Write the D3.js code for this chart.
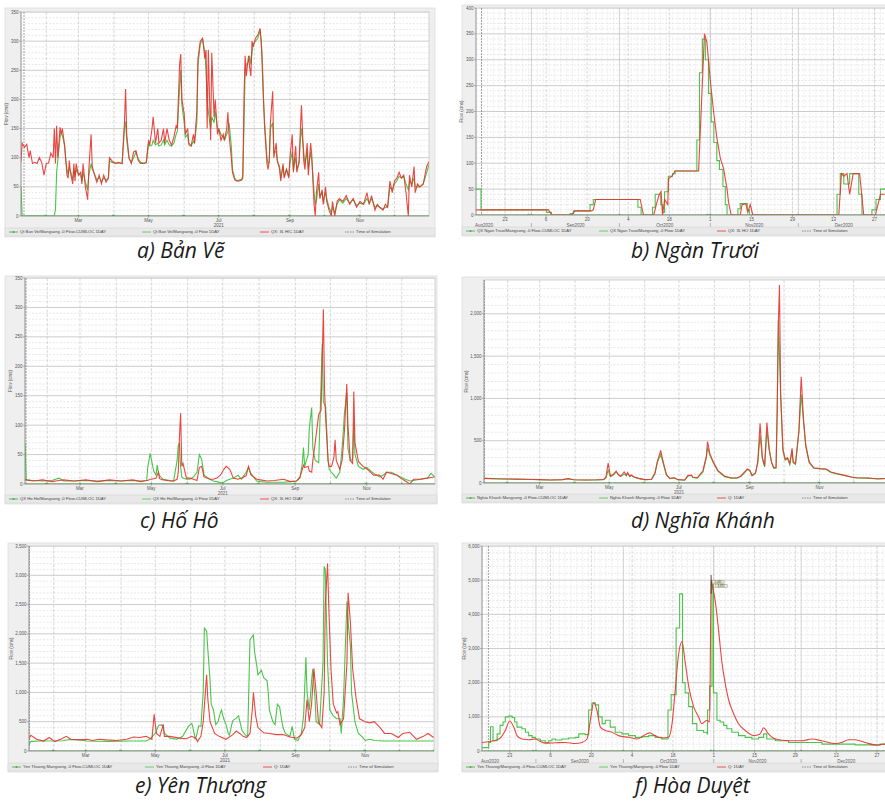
<!DOCTYPE html>
<html>
<head>
<meta charset="utf-8">
<script src="https://cdn.jsdelivr.net/npm/d3@7"></script>
<style>
  body { margin: 0; background: #fff; }
  text { font-family: "Liberation Sans", Arial, sans-serif; }
  .cap { font-family: "Open Sans", "DejaVu Sans", sans-serif; font-style: italic; }
</style>
</head>
<body>
<svg id="fig" width="885" height="801"></svg>
<script>
// ---- data: day of year, flow (cms) ----
// a) Ban Ve 2021
const aDay = [10,11,13,15,17,18,20,22,24,26,
  28,30,32,34,36,38,39,40,41,42,
  44,45,46,48,49,50,51,52,53,55,
  56,57,58,60,62,63,64,66,68,69,
  71,72,74,76,78,80,82,84,86,87,
  89,92,95,98,100,101,102,104,106,108,
  110,112,114,117,119,121,122,124,125,127,
  129,130,132,134,135,137,139,141,143,145,
  146,148,149,150,152,153,155,156,158,160,
  161,163,164,166,168,170,171,172,173,175,
  176,178,179,181,182,184,186,187,189,190,
  191,193,194,196,198,200,202,203,204,205,
  206,208,209,210,211,212,214,216,218,219,
  220,221,222,224,225,226,227,229,230,232,
  233,235,236,238,239,241,243,244,246,247,
  249,250,252,253,254,256,257,259,260,262,
  263,264,265,266,267,269,270,272,273,275,
  276,278,280,281,283,285,287,290,293,296,
  299,302,305,308,311,313,315,318,320,322,
  325,327,329,331,333,335,337,339,341,343,
  345,347,348,350,352,353,355,357,360,363,
  365];
const aObs = [50,0,0,0,0,0,0,0,0,0,
  0,0,0,0,0,0,0,12,75,95,
  135,142,138,120,95,80,72,82,78,62,
  80,68,80,72,70,60,75,58,45,70,
  90,80,72,62,66,60,65,62,64,95,
  92,91,91,90,150,162,130,98,92,100,
  110,98,92,91,91,125,120,122,130,122,
  125,120,122,130,122,130,122,120,125,140,
  145,220,250,190,160,135,140,122,120,128,
  125,160,260,295,303,280,250,200,180,150,
  170,160,180,150,150,140,135,130,140,145,
  160,120,80,65,60,62,62,70,150,250,
  260,265,275,260,280,295,300,305,318,300,
  270,200,160,100,90,92,150,160,110,110,
  95,85,65,85,68,80,68,90,110,80,
  100,80,90,130,150,110,90,110,80,110,
  95,70,40,20,25,55,35,40,25,40,
  30,15,5,15,5,20,28,22,30,22,
  28,18,22,20,30,22,30,15,18,15,
  12,15,15,50,45,55,60,68,65,68,
  55,45,60,55,65,50,50,50,55,75,
  88];
const aSim = [93,125,118,123,100,112,90,92,90,100,
  92,70,90,91,108,100,150,90,155,100,
  152,140,150,120,95,70,65,95,75,55,
  90,60,90,70,75,55,90,50,28,80,
  140,85,70,58,70,55,70,58,65,100,
  95,90,92,90,160,218,140,100,90,110,
  112,95,90,90,92,130,122,150,170,125,
  150,125,130,150,125,150,130,122,135,155,
  150,260,278,200,175,140,150,125,120,140,
  125,180,270,300,305,270,285,150,285,130,
  280,170,200,140,150,130,140,130,150,178,
  140,100,75,62,60,60,62,65,200,275,
  240,275,255,240,300,290,305,310,322,300,
  250,200,150,90,80,95,160,214,100,125,
  95,80,60,90,65,80,65,100,140,75,
  120,75,95,145,190,95,80,125,70,125,
  105,60,20,0,40,75,30,45,20,50,
  25,10,0,25,0,25,30,25,35,20,
  30,15,25,20,40,20,35,10,20,15,
  10,20,15,60,40,60,65,75,65,70,
  40,0,70,50,85,40,55,50,55,85,
  93];

// b) Ngan Truoi 2020
const bObsDay = [226.1,227.8,250.2,251.8,258.2,259.3,265,266.1,281.3,282.4,
  286.3,287.2,289.1,289.7,290.4,291.7,293.1,294,301.4,302.3,
  303.3,304.3,305.4,306.3,307.2,308.2,309.1,310.3,311.1,311.7,
  315.4,316.2,318.6,319.3,349.2,350.3,351.5,353.5,356.6,357.7,
  361.1,362.5,364,368];
const bObs = [50,10,5,0,3,8,20,30,15,0,
  15,40,20,5,45,75,80,85,145,275,
  340,300,235,180,140,105,88,55,20,0,
  12,22,10,0,40,80,60,80,40,0,
  10,30,50,50];
const bSimDay = [226.1,250.8,252,258.8,259.9,265.5,266.1,266.9,282.1,283.2,
  286.7,287.8,288.6,289.2,289.7,290.4,291.5,291.7,292.9,294,
  302,304,304.8,306,307.1,308.2,309.4,310.5,311.7,312.2,
  313.1,316.2,316.8,318.1,318.8,319.6,320.5,349.8,350.7,351.5,
  352.6,353.5,354.7,356.9,358.3,362.3,364,368];
const bSim = [10,10,0,0,8,8,10,30,30,0,
  0,25,40,45,0,30,20,70,75,85,
  85,350,335,260,200,150,110,90,50,25,
  0,0,20,22,5,20,0,0,80,75,
  80,40,80,80,0,0,40,40];

// c) Ho Ho 2021
const cDay = [13,14,20,28,36,42,46,55,65,75,
  85,95,105,112,117,118,120,121,123,125,
  126,127,128,131,137,140,143,144,145,146,
  147,148,151,154,157,160,162,164,166,171,
  174,177,180,183,185,188,191,195,198,202,
  204,206,211,214,220,226,234,240,245,248,
  250,251,252,255,256,258,259,261,264,266,
  267,268,269,270,272,273,275,277,278,279,
  282,284,286,288,289,291,293,294,295,298,
  302,305,311,316,319,322,326,331,334,338,
  342,345,351,357,360,363];
const cObs = [70,7,6,5,6,10,5,5,6,5,
  6,5,6,5,6,30,52,42,22,15,
  32,20,14,8,6,5,40,65,70,30,
  12,10,8,8,12,20,50,42,15,8,
  5,4,2,3,6,8,10,15,8,20,
  28,18,5,4,3,3,3,4,5,10,
  35,62,30,50,95,130,60,40,36,170,
  238,140,135,130,40,25,20,15,12,10,
  20,60,120,155,60,40,42,105,50,30,
  25,28,18,12,15,20,20,15,12,8,
  5,6,8,10,18,12];
const cSim = [8,7,5,7,4,6,7,5,7,4,
  7,5,7,4,6,6,8,8,9,10,
  15,20,9,7,5,5,8,20,80,120,
  30,35,10,10,8,6,28,30,12,8,
  8,10,15,25,30,25,10,8,10,14,
  30,16,8,7,5,6,8,4,5,12,
  25,32,28,30,22,20,40,70,118,125,
  210,297,160,110,40,30,30,45,75,40,
  25,40,90,170,100,40,35,157,70,38,
  30,26,15,15,8,20,18,15,10,5,
  0,8,8,10,11,12];

// d) Nghia Khanh 2021
const dDay = [11,20,30,40,50,60,70,80,85,90,
  100,110,116,118,120,122,125,127,129,131,
  134,136,137,139,140,143,147,152,158,161,
  163,166,168,171,174,178,181,187,190,193,
  194,198,203,206,207,209,212,216,222,228,
  233,236,239,242,244,246,249,251,253,255,
  257,259,261,263,265,267,268,269,270,271,
  273,275,277,279,281,282,284,287,289,291,
  293,296,300,306,311,315,321,327,333,338,
  347,356,365];
const dObs = [55,52,48,45,42,38,36,38,50,38,
  35,36,40,60,150,75,100,130,95,75,
  105,85,115,75,90,65,50,38,42,110,
  240,340,240,95,50,58,38,32,85,88,
  65,58,130,300,420,330,240,140,75,58,
  58,75,115,160,145,85,115,240,560,290,
  190,620,390,240,175,175,800,1920,1500,1040,
  380,270,290,220,370,240,220,600,1050,730,
  430,240,175,165,160,125,105,88,68,60,
  58,48,52];
const dSim = [55,50,48,46,44,40,36,40,52,38,
  36,38,42,65,235,80,110,140,100,80,
  130,90,125,80,95,70,55,40,45,120,
  250,385,260,100,55,62,40,35,90,92,
  70,62,145,320,490,350,250,150,80,60,
  62,80,125,165,150,90,120,250,705,300,
  200,715,400,250,180,185,900,1900,2340,1060,
  400,280,300,230,410,250,230,620,1255,760,
  450,250,180,170,165,130,110,90,70,62,
  60,50,55];

// e) Yen Thuong 2021
const eObsDay = [10,12,20,40,46,55,61,80,100,113,
  116,121,124,127,129,134,140,145,150,153,
  154,156,157,159,161,163,164,166,167,169,
  170,172,174,176,178,179,181,183,185,186,
  188,189,192,194,197,200,202,204,207,208,
  210,211,214,216,219,220,221,224,226,228,
  230,232,233,235,239,241,243,246,249,251,
  253,254,256,258,259,261,262,265,268,269,
  270,272,274,277,280,283,284,286,289,290,
  292,293,296,299,302,305,309,313,322,365];
const eObs = [100,165,170,175,195,190,170,165,170,170,
  200,300,440,445,300,220,200,250,420,470,
  400,210,250,430,420,1000,2100,2050,1750,1200,
  800,700,450,500,650,700,550,450,300,270,
  450,520,560,600,350,270,250,1900,1980,1700,
  1450,1300,1380,1250,1200,1000,700,500,450,800,
  750,500,400,300,250,420,200,180,300,600,
  1600,1000,700,1200,1400,900,500,450,1500,3150,
  3100,1500,700,600,550,550,300,900,2550,2200,
  1800,1000,500,300,250,180,200,180,170,170];
const eSimDay = [10,12,17,23,28,33,39,43,47,55,
  61,66,72,78,87,96,102,107,113,118,
  120,122,125,128,129,134,142,148,153,157,
  158,161,163,166,167,169,173,177,183,189,
  192,195,198,201,204,206,207,209,211,216,
  221,227,233,239,245,249,252,254,256,258,
  260,262,264,267,269,270,272,273,275,277,
  280,281,283,286,289,290,292,294,297,300,
  305,309,313,318,322,328,334,338,344,350,
  356,360,365];
const eSim = [200,270,200,170,230,160,210,250,200,190,
  200,180,200,190,180,200,240,230,250,200,
  625,300,250,455,250,250,220,210,250,210,
  160,250,500,1300,900,500,300,250,200,280,
  340,300,250,230,300,700,1000,600,400,310,
  300,280,280,240,220,280,400,880,500,800,
  1410,1000,500,400,1000,2500,3200,2500,1400,800,
  650,670,450,550,1500,2700,2200,1400,900,550,
  500,480,500,400,300,300,230,300,320,200,
  250,300,230];

// f) Hoa Duyet 2020
const fObsDay = [226.5,228.8,229.4,230.3,231.7,232.7,233.7,234.5,235.7,236.8,
  237.7,238.5,240.2,241.4,242.5,243.7,244.8,246.5,248.2,249.4,
  250.5,251.7,253.9,256.2,258.5,259.7,261.9,263.1,264.2,265.4,
  266.5,267.7,268.8,270.5,272.2,274.5,276.8,279.1,281.4,283.7,
  285.9,288.2,290.3,291.4,293.1,294.3,295.3,296.2,297.4,298.7,
  300.2,302.5,303.7,303.9,304.6,305.4,305.9,307.1,308.2,309.4,
  310.5,312.2,314.5,316.8,319.1,321.4,323.1,324.2,327.1,331.7,
  343.1,354.5,361.4,363.1,368];
const fObs = [100,250,710,300,500,750,850,1000,1020,980,
  850,700,650,550,450,400,350,300,250,300,
  350,320,350,380,400,500,480,1200,1400,1350,
  1000,800,900,700,550,500,450,400,420,450,
  400,350,1200,1650,3600,4600,2000,1700,1300,800,
  600,550,500,1200,1900,4900,1700,900,850,750,
  650,550,450,400,350,400,500,350,300,250,
  200,180,170,200,220];
const fSimDay = [226.5,228.8,232.3,234.5,236,237.4,238.5,240.2,242.5,244.8,
  246.5,248.2,251.7,255.1,258.5,260.8,262.5,263.7,264.8,265.9,
  267.1,268.8,271.1,273.4,276.8,279.7,281.9,284,285.9,288.2,
  290.5,291.7,292.8,293.9,295.1,296.2,297.4,299.1,300.8,301.9,
  303.7,304.6,305.1,305.6,306.5,307.7,308.8,309.9,311.1,312.8,
  314.5,316.8,319.7,321.9,323.1,324.8,327.1,331.7,336.2,339.7,
  343.1,347.7,349.9,352.2,354.5,357.9,361.4,364.8,368];
const fSim = [250,270,350,600,880,700,450,350,330,350,
  280,230,240,250,220,250,350,900,1420,1200,
  700,600,550,450,400,350,450,530,450,380,
  400,800,1800,2800,3200,2600,1900,1300,1000,800,
  900,850,5000,4800,4400,3500,2600,2000,1500,1100,
  800,600,450,500,680,500,350,300,300,350,
  300,220,250,330,330,250,180,200,210];
const fMarkers = ["5,031", "4,872"];

// ---- tick labels ----
const monthTicks = ["Mar", "May", "Jul", "Sep", "Nov"];
const monthTickIdx = [2, 4, 6, 8, 10];
const dayTicks2020 = ["2020-08-23","2020-09-06","2020-09-20","2020-10-04","2020-10-18",
  "2020-11-01","2020-11-15","2020-11-29","2020-12-13","2020-12-27"];
const dayTickLabels = ["23","6","20","4","18","1","15","29","13","27"];
const monthLabels2020 = ["Aug2020","Sep2020","Oct2020","Nov2020","Dec2020"];

const legends = {
  a: ["Qt Ban Ve/Mangsong -0 Flow-CUMLOC 1DAY", "Qt Ban Ve/Mangsong -0 Flow 1DAY", "QX: 3L HIC 1DAY", "Time of Simulation"],
  b: ["QX Ngan Truoi/Mangsong -0 Flow-CUMLOC 1DAY", "QX Ngan Truoi/Mangsong -0 Flow 1DAY", "QX: 3L HO 1DAY", "Time of Simulation"],
  c: ["QX Ho Ho/Mangsong -0 Flow-CUMLOC 1DAY", "QX Ho Ho/Mangsong -0 Flow 1DAY", "QX: 3L HO 1DAY", "Time of Simulation"],
  d: ["Nghia Khanh Mangsong -0 Flow-CUMLOC 1DAY", "Nghia Khanh Mangsong -0 Flow 1DAY", "Q: 1DAY", "Time of Simulation"],
  e: ["Yen Thuong Mangsong -0 Flow-CUMLOC 1DAY", "Yen Thuong Mangsong -0 Flow 1DAY", "Q: 1DAY", "Time of Simulation"],
  f: ["Yen Thuong/Mangsong -0 Flow-CUMLOC 1DAY", "Yen Thuong/Mangsong -0 Flow 1DAY", "Q: 1DAY", "Time of Simulation"]
};

// ---- layout ----
const panels = [
  {key:"a", year:2021, frame:[5,8,430,229], plot:[21,12,429,216], xDom:[10,365], yMax:350, yMajor:50, yMinor:10,
   axis:"month", obs:[aDay,aObs], sim:[aDay,aSim], tos:12.6, caption:"a) Bản Vẽ", cap:[137,258]},
  {key:"b", year:2020, frame:[462,5,440,231], plot:[476,8,891,215], xDom:[226.1,367.6], yMax:400, yMajor:50, yMinor:10,
   axis:"day", obs:[bObsDay,bObs], sim:[bSimDay,bSim], obsStep:true, tos:228, caption:"b) Ngàn Trươi", cap:[631,258]},
  {key:"c", year:2021, frame:[5,276,432,228], plot:[25,278,435,484], xDom:[13,363.4], yMax:350, yMajor:50, yMinor:10,
   axis:"month", obs:[cDay,cObs], sim:[cDay,cSim], tos:13.9, caption:"c) Hố Hô", cap:[140,528]},
  {key:"d", year:2021, frame:[462,277,440,226], plot:[484,280,888,483], xDom:[11.3,365], yMax:2400, yMajor:500, yMinor:100,
   axis:"month", obs:[dDay,dObs], sim:[dDay,dSim], tos:11.6, caption:"d) Nghĩa Khánh", cap:[631,528]},
  {key:"e", year:2021, frame:[8,543,430,229], plot:[29,546,434,751], xDom:[10.3,365.3], yMax:3500, yMajor:500, yMinor:100,
   axis:"month", obs:[eObsDay,eObs], sim:[eSimDay,eSim], tos:10.6, caption:"e) Yên Thượng", cap:[135,793]},
  {key:"f", year:2020, frame:[462,543,440,229], plot:[482,546,893,751], xDom:[226.5,367.5], yMax:6000, yMajor:1000, yMinor:200,
   axis:"day", obs:[fObsDay,fObs], sim:[fSimDay,fSim], obsStep:true, simSmooth:true, tos:228.7, caption:"f) Hòa Duyệt", cap:[635,793]}
];

const GREEN = "#4cc44c", RED = "#e5332e";
const svg = d3.select("#fig");
svg.append("rect").attr("width", 885).attr("height", 801).attr("fill", "#fff");

function dayDate(year, d) {
  return new Date(new Date(year, 0, 1).getTime() + (d - 1) * 864e5);
}

panels.forEach(p => {
  const [fx, fy, fw, fh] = p.frame;
  const [l, t, r, b] = p.plot;
  const g = svg.append("g");
  const x = d3.scaleTime().domain(p.xDom.map(d => dayDate(p.year, d))).range([l, r]);
  const y = d3.scaleLinear().domain([0, p.yMax]).range([b, t]);

  g.append("rect").attr("x", fx).attr("y", fy).attr("width", fw).attr("height", fh)
    .attr("fill", "#efefef").attr("stroke", "#d4d4d4").attr("stroke-width", 0.6);
  g.append("rect").attr("x", l).attr("y", t).attr("width", r - l).attr("height", b - t)
    .attr("fill", "#fff").attr("stroke", "#b8b8b8").attr("stroke-width", 0.6);

  const clipId = "clip-" + p.key;
  g.append("clipPath").attr("id", clipId).append("rect")
    .attr("x", l).attr("y", t).attr("width", r - l).attr("height", b - t);
  const inner = g.append("g").attr("clip-path", `url(#${clipId})`);

  // horizontal grid
  inner.selectAll(".hmin").data(d3.range(p.yMinor, p.yMax, p.yMinor).filter(v => v % p.yMajor !== 0))
    .join("line").attr("x1", l).attr("x2", r).attr("y1", d => y(d)).attr("y2", d => y(d))
    .attr("stroke", "#d0d0d0").attr("stroke-width", 0.5).attr("stroke-dasharray", "2,1.5");
  inner.selectAll(".hmaj").data(d3.range(p.yMajor, p.yMax + 1, p.yMajor))
    .join("line").attr("x1", l).attr("x2", r).attr("y1", d => y(d)).attr("y2", d => y(d))
    .attr("stroke", "#cdcdcd").attr("stroke-width", 1);

  // vertical grid
  const d0 = x.domain()[0], d1 = x.domain()[1];
  if (p.axis === "month") {
    inner.selectAll(".vm").data(d3.timeMonth.range(d0, d1))
      .join("line").attr("x1", d => x(d)).attr("x2", d => x(d)).attr("y1", t).attr("y2", b)
      .attr("stroke", "#c6c6c6").attr("stroke-width", 0.7).attr("stroke-dasharray", "3,1.5");
  } else {
    inner.selectAll(".vd").data(d3.timeDay.every(2).range(d0, d1))
      .join("line").attr("x1", d => x(d)).attr("x2", d => x(d)).attr("y1", t).attr("y2", b)
      .attr("stroke", "#dadada").attr("stroke-width", 0.5).attr("stroke-dasharray", "2,1.5");
    inner.selectAll(".vt").data(dayTicks2020.map(s => new Date(s + "T00:00")))
      .join("line").attr("x1", d => x(d)).attr("x2", d => x(d)).attr("y1", t).attr("y2", b)
      .attr("stroke", "#c0c0c0").attr("stroke-width", 0.6).attr("stroke-dasharray", "3,1.5");
    inner.selectAll(".vmo").data(d3.timeMonth.range(d0, d1))
      .join("line").attr("x1", d => x(d)).attr("x2", d => x(d)).attr("y1", t).attr("y2", b)
      .attr("stroke", "#bdbdbd").attr("stroke-width", 0.6);
  }

  // time of simulation marker
  inner.append("line").attr("x1", x(dayDate(p.year, p.tos))).attr("x2", x(dayDate(p.year, p.tos)))
    .attr("y1", t).attr("y2", b).attr("stroke", "#666").attr("stroke-width", 0.6).attr("stroke-dasharray", "2,1");

  // cumulative local flow (flat zero) with markers
  const cum = [[d0, 0], [d1, 0]];
  inner.append("path").datum(cum).attr("fill", "none").attr("stroke", "#3aa83a").attr("stroke-width", 0.9)
    .attr("d", d3.line().x(d => x(d[0])).y(d => y(d[1])));
  inner.selectAll(".cm").data(d3.timeDay.every(30).range(d0, d1))
    .join("rect").attr("x", d => x(d) - 0.8).attr("y", y(0) - 1.2).attr("width", 1.6).attr("height", 1.6)
    .attr("fill", "#3aa83a");

  const toRows = ([days, vals]) => d3.zip(days, vals).map(([d, v]) => [dayDate(p.year, d), v]);
  const obsLine = d3.line().x(d => x(d[0])).y(d => y(d[1]))
    .curve(p.obsStep ? d3.curveStepAfter : d3.curveLinear);
  const simLine = d3.line().x(d => x(d[0])).y(d => y(d[1]))
    .curve(p.simSmooth ? d3.curveMonotoneX : d3.curveLinear);
  inner.append("path").datum(toRows(p.obs)).attr("fill", "none").attr("stroke", GREEN)
    .attr("stroke-width", 1.1).attr("d", obsLine);
  inner.append("path").datum(toRows(p.sim)).attr("fill", "none").attr("stroke", RED)
    .attr("stroke-width", 1.1).attr("stroke-opacity", 0.9).attr("d", simLine);

  // axis lines
  g.append("line").attr("x1", l).attr("x2", l).attr("y1", t).attr("y2", b).attr("stroke", "#888").attr("stroke-width", 0.7);
  g.append("line").attr("x1", l).attr("x2", r).attr("y1", b).attr("y2", b).attr("stroke", "#888").attr("stroke-width", 0.7);

  // y ticks
  const fmt = d3.format(",");
  const yt = g.selectAll(".yt").data(d3.range(0, p.yMax + 1, p.yMajor)).join("g");
  yt.append("line").attr("x1", l - 2).attr("x2", l).attr("y1", d => y(d)).attr("y2", d => y(d))
    .attr("stroke", "#777").attr("stroke-width", 0.5);
  yt.append("text").attr("x", l - 2.5).attr("y", d => y(d)).attr("dy", "0.35em")
    .attr("text-anchor", "end").attr("font-size", 4.5).attr("fill", "#555").text(d => fmt(d));
  const yTitleX = p.yMax >= 1000 ? l - 16 : l - 13;
  g.append("text").attr("transform", `translate(${yTitleX},${(t + b) / 2}) rotate(-90)`)
    .attr("text-anchor", "middle").attr("font-size", 4.5).attr("fill", "#555").text("Flow (cms)");

  // x ticks
  if (p.axis === "month") {
    const mdates = monthTickIdx.map(m => new Date(p.year, m, 1));
    g.selectAll(".xt").data(mdates).join("line")
      .attr("x1", d => x(d)).attr("x2", d => x(d)).attr("y1", b).attr("y2", b + 2)
      .attr("stroke", "#777").attr("stroke-width", 0.5);
    g.selectAll(".xl").data(mdates).join("text")
      .attr("x", d => x(d)).attr("y", b + 5.5).attr("text-anchor", "middle")
      .attr("font-size", 4.5).attr("fill", "#555").text((d, i) => monthTicks[i]);
    g.append("text").attr("x", x(new Date(p.year, 6, 1))).attr("y", b + 11).attr("text-anchor", "middle")
      .attr("font-size", 4.5).attr("fill", "#555").text(String(p.year));
  } else {
    const tdates = dayTicks2020.map(s => new Date(s + "T00:00"));
    g.selectAll(".xt").data(tdates).join("line")
      .attr("x1", d => x(d)).attr("x2", d => x(d)).attr("y1", b).attr("y2", b + 2)
      .attr("stroke", "#777").attr("stroke-width", 0.5);
    g.selectAll(".xl").data(tdates).join("text")
      .attr("x", d => x(d)).attr("y", b + 6).attr("text-anchor", "middle")
      .attr("font-size", 4.5).attr("fill", "#555").text((d, i) => dayTickLabels[i]);
    const mStarts = monthLabels2020.map((s, i) => new Date(2020, 7 + i, 1));
    g.selectAll(".xm").data(mStarts).join("text")
      .attr("x", (d, i) => {
        if (i === 0) return l + 8;
        const e = d3.min([d3.timeMonth.offset(d, 1), d1]);
        return (x(d) + x(e)) / 2;
      })
      .attr("y", b + 12).attr("text-anchor", "middle").attr("font-size", 4.5).attr("fill", "#555")
      .text((d, i) => monthLabels2020[i]);
    g.selectAll(".xs").data(mStarts.slice(1)).join("line")
      .attr("x1", d => x(d)).attr("x2", d => x(d)).attr("y1", b + 8).attr("y2", b + 13)
      .attr("stroke", "#777").attr("stroke-width", 0.5);
  }

  // cursor readout on f
  if (p.key === "f") {
    const cx = x(dayDate(p.year, 305.1));
    g.append("line").attr("x1", cx).attr("x2", cx).attr("y1", y(5150)).attr("y2", y(4600))
      .attr("stroke", "#222").attr("stroke-width", 0.8);
    fMarkers.forEach((s, i) => {
      const bx = cx + 1 + i * 3, by = y(5000) + i * 4;
      g.append("rect").attr("x", bx).attr("y", by).attr("width", 12).attr("height", 3.6)
        .attr("fill", "#ebe9d2").attr("stroke", "#8a8a7a").attr("stroke-width", 0.4);
      g.append("text").attr("x", bx + 6).attr("y", by + 2.7).attr("text-anchor", "middle")
        .attr("font-size", 2.8).attr("fill", "#333").text(s);
    });
  }

  // legend strip
  const ly = fy + fh - 5;
  g.append("rect").attr("x", fx).attr("y", ly - 4).attr("width", fw).attr("height", 8)
    .attr("fill", "#e8e8e8").attr("stroke", "#d0d0d0").attr("stroke-width", 0.5);
  const offs = [4, 137, 255, 340];
  const sty = [
    {c: "#3aa83a", dash: null, mark: true},
    {c: GREEN, dash: null},
    {c: RED, dash: null},
    {c: "#777", dash: "1.5,1"}
  ];
  legends[p.key].forEach((name, i) => {
    const lx = fx + offs[i];
    const ln = g.append("line").attr("x1", lx).attr("x2", lx + 9).attr("y1", ly).attr("y2", ly)
      .attr("stroke", sty[i].c).attr("stroke-width", 0.8);
    if (sty[i].dash) ln.attr("stroke-dasharray", sty[i].dash);
    if (sty[i].mark) g.append("rect").attr("x", lx + 3.7).attr("y", ly - 0.8).attr("width", 1.6).attr("height", 1.6)
      .attr("fill", sty[i].c);
    g.append("text").attr("x", lx + 11).attr("y", ly).attr("dy", "0.35em")
      .attr("font-size", 4.2).attr("fill", "#444").text(name);
  });

  // caption
  svg.append("text").attr("class", "cap").attr("x", p.cap[0]).attr("y", p.cap[1])
    .attr("font-size", 21).attr("fill", "#1a1a1a").text(p.caption);
});
</script>
</body>
</html>
